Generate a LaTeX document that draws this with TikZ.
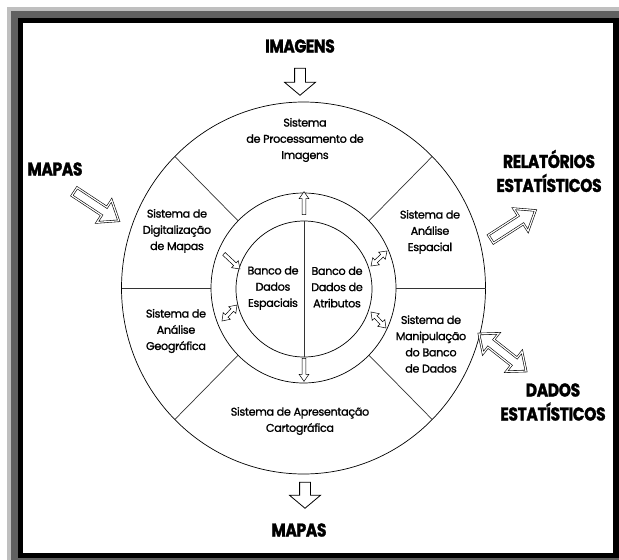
\documentclass[tikz,border=0pt]{standalone}
\usepackage{fontspec}
\setmainfont{Poppins}[FakeBold=1.2, LetterSpace=-3]
\newfontfamily\titlefont[FakeStretch=0.84, BoldFeatures={FakeBold=1.5}, LetterSpace=-2]{Poppins}
\usepackage{xcolor}
\usepackage{tikz}
\usetikzlibrary{shapes.arrows, calc}
\definecolor{frameout}{RGB}{191,191,191}
\definecolor{framemid}{RGB}{96,96,96}
\tikzstyle{ring} = [draw=black, line width=0.7pt]
\tikzstyle{divider} = [draw=black!80, line width=0.7pt]
\tikzstyle{sector} = [align=center, inner sep=1pt, font=\fontsize{11.2}{16.2}\selectfont]
\tikzstyle{title} = [align=center, inner sep=1pt, font=\titlefont\bfseries\fontsize{18.5}{24}\selectfont]
\tikzset{
  bigarrow/.style={single arrow, draw, fill=white, line width=0.8pt, inner sep=0pt, inner ysep=5pt,
    minimum width=0pt, minimum height=#1, single arrow head extend=10pt, single arrow tip angle=100,
    sloped, allow upside down},
  bigdouble/.style={double arrow, draw, fill=white, double, double distance=1.2pt, line width=0.6pt,
    inner sep=0pt, inner ysep=4.5pt, minimum width=0pt, minimum height=#1, double arrow head extend=8pt,
    double arrow tip angle=80, sloped, allow upside down},
  diagarrow/.style={bigarrow=#1, double, double distance=1.2pt, line width=0.6pt, inner ysep=4.5pt,
    single arrow tip angle=75, single arrow head extend=8.5pt},
  ringarrow/.style={single arrow, draw, fill=white, line width=0.5pt, inner sep=0pt, inner ysep=1.6pt,
    minimum width=0pt, minimum height=#1, single arrow head extend=3pt, single arrow tip angle=70,
    sloped, allow upside down},
  ringdouble/.style={double arrow, draw, fill=white, line width=0.5pt, inner sep=0pt, inner ysep=1.6pt,
    minimum width=0pt, minimum height=#1, double arrow head extend=3pt, double arrow tip angle=70,
    sloped, allow upside down}
}

\begin{document}
\begin{tikzpicture}[x=1pt, y=-1pt]
    \useasboundingbox (0,0) rectangle (619,560);
    % Window frame
    \fill[frameout] (7,7) rectangle (619,560);
    \fill[framemid] (11,11) rectangle (619,560);
    \fill[black] (18,18) rectangle (619,558);
    \fill[white] (23,23) rectangle (613,553);

    % Rings
    \coordinate (c) at (303.5,288);
    \coordinate (ci) at (304,289);
    \draw[ring] (c) ellipse (182pt and 186pt);
    \draw[ring] (c) ellipse (92.5pt and 95pt);
    \draw[ring] (ci) circle (68pt);
    \foreach \a in {0,45,135,180,225,315}
        \draw[divider] ($(c)+(\a:92.5pt and 95pt)$) -- ($(c)+(\a:182pt and 186pt)$);
    \draw[divider] ($(ci)+(90:68pt)$) -- ($(ci)+(270:68pt)$);

    % Outer ring systems
    \node[sector] (procimg) at (305,140) {Sistema\\de Processamento de\\Imagens};
    \node[sector] (digmap) at (177,231) {Sistema de\\Digitalização\\de Mapas};
    \node[sector] (anageo) at (176,331) {Sistema de\\Análise\\Geográfica};
    \node[sector] (anaesp) at (430,232) {Sistema de\\Análise\\Espacial};
    \node[sector] (manbd) at (431,344) {Sistema de\\Manipulação\\do Banco\\de Dados};
    \node[sector] (apcart) at (300,421) {Sistema de Apresentação\\Cartográfica};

    % Data banks
    \node[sector] (bdesp) at (273,288) {Banco de\\Dados\\Espaciais};
    \node[sector] (bdattr) at (337,287) {Banco de\\Dados de\\Atributos};

    % Inputs and outputs
    \node[title] (imagens) at (300,46) {IMAGENS};
    \node[title] (mapasin) at (55,169) {MAPAS};
    \node[title] (relat) at (549,171) {RELATÓRIOS\\ESTATÍSTICOS};
    \node[title] (dados) at (553,402) {DADOS\\ESTATÍSTICOS};
    \node[title] (mapasout) at (299,530) {MAPAS};

    % Big arrows
    \coordinate (imgA) at (300,66);   \coordinate (imgB) at (300,93);
    \coordinate (mapA) at (72,190);   \coordinate (mapB) at (116,219);
    \coordinate (relA) at (488,241);  \coordinate (relB) at (533,212);
    \coordinate (dadA) at (479,334);  \coordinate (dadB) at (526,371);
    \coordinate (outA) at (305,480);  \coordinate (outB) at (305,506);
    \path (imgA) -- (imgB) node[midway, bigarrow=27pt] {};
    \path (mapA) -- (mapB) node[midway, diagarrow=53pt] {};
    \path (relA) -- (relB) node[midway, diagarrow=53pt] {};
    \path (dadA) -- (dadB) node[midway, bigdouble=60pt] {};
    \path (outA) -- (outB) node[midway, bigarrow=26pt] {};

    % Small arrows in the middle ring
    \coordinate (upA) at (304,216);  \coordinate (upB) at (304,193);
    \coordinate (dnA) at (304,357);  \coordinate (dnB) at (304,380);
    \coordinate (ulA) at (223,253);  \coordinate (ulB) at (239,268);
    \coordinate (llA) at (222,321);  \coordinate (llB) at (237,305);
    \coordinate (urA) at (371,266);  \coordinate (urB) at (387,251);
    \coordinate (lrA) at (371,312);  \coordinate (lrB) at (386,328);
    \path (upA) -- (upB) node[midway, ringarrow=23pt] {};
    \path (dnA) -- (dnB) node[midway, ringarrow=23pt] {};
    \path (ulA) -- (ulB) node[midway, ringarrow=22pt] {};
    \path (llA) -- (llB) node[midway, ringdouble=22pt] {};
    \path (urA) -- (urB) node[midway, ringdouble=22pt] {};
    \path (lrA) -- (lrB) node[midway, ringdouble=22pt] {};
\end{tikzpicture}
\end{document}
